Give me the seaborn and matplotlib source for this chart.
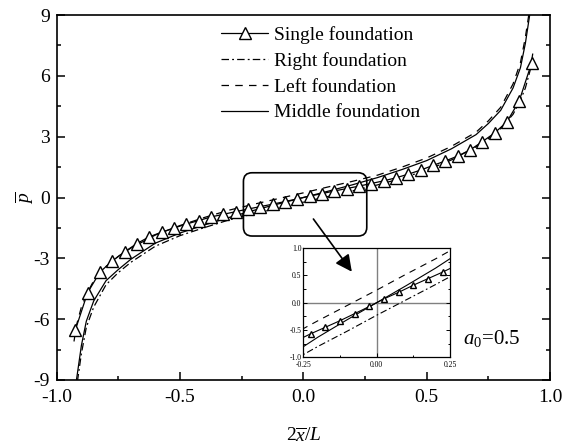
import numpy as np
import pandas as pd
import seaborn as sns
import matplotlib.pyplot as plt
from matplotlib.patches import FancyBboxPatch, FancyArrowPatch
from matplotlib.ticker import MultipleLocator, FormatStrFormatter

# single foundation (triangle markers)
x_single = [-0.925, -0.875, -0.825, -0.775, -0.725, -0.675, -0.625, -0.575, -0.525, -0.475,
            -0.425, -0.375, -0.325, -0.275, -0.225, -0.175, -0.125, -0.075, -0.025,
            0.025, 0.075, 0.125, 0.175, 0.225, 0.275, 0.325, 0.375, 0.425, 0.475,
            0.525, 0.575, 0.625, 0.675, 0.725, 0.775, 0.825, 0.875, 0.925]
p_single = [-6.55, -4.70, -3.68, -3.13, -2.68, -2.27, -1.94, -1.71, -1.51, -1.31,
            -1.14, -0.96, -0.83, -0.70, -0.57, -0.45, -0.33, -0.20, -0.07,
            0.07, 0.19, 0.32, 0.44, 0.56, 0.69, 0.82, 0.97, 1.15, 1.35,
            1.58, 1.80, 2.04, 2.34, 2.75, 3.18, 3.73, 4.76, 6.62]

# group of three foundations
x_curve = [-0.93, -0.92, -0.90, -0.88, -0.85, -0.80, -0.75, -0.70, -0.60, -0.50,
           -0.40, -0.30, -0.20, -0.10, 0.00, 0.10, 0.20, 0.30, 0.40, 0.50,
           0.60, 0.70, 0.75, 0.80, 0.85, 0.88, 0.90, 0.92, 0.93]
p_middle = [-10.5, -9.0, -7.3, -6.1, -5.1, -4.1, -3.55, -3.05, -2.25, -1.75,
            -1.35, -0.98, -0.63, -0.31, 0.00, 0.31, 0.63, 0.98, 1.38, 1.82,
            2.40, 3.10, 3.65, 4.30, 5.40, 6.40, 7.60, 9.20, 10.5]
p_left = [-7.1, -6.3, -5.4, -4.8, -4.1, -3.4, -2.9, -2.5, -1.85, -1.38,
          -0.98, -0.62, -0.33, -0.05, 0.23, 0.52, 0.80, 1.10, 1.50, 1.95,
          2.52, 3.22, 3.78, 4.45, 5.60, 6.65, 7.90, 9.50, 10.6]
p_right = [-10.6, -9.4, -7.7, -6.4, -5.4, -4.3, -3.7, -3.2, -2.40, -1.88,
           -1.48, -1.10, -0.80, -0.52, -0.23, 0.05, 0.33, 0.62, 0.95, 1.35,
           1.85, 2.50, 2.90, 3.40, 4.10, 4.80, 5.40, 6.30, 7.10]

labels = ["Single foundation", "Right foundation", "Left foundation", "Middle foundation"]

sns.set_style("ticks", {"axes.edgecolor": "black", "xtick.color": "black", "ytick.color": "black",
                        "text.color": "black", "axes.labelcolor": "black",
                        "xtick.direction": "in", "ytick.direction": "in"})
plt.rcParams["font.family"] = ["Liberation Serif", "DejaVu Serif"]
plt.rcParams["mathtext.fontset"] = "custom"
plt.rcParams["mathtext.rm"] = "Liberation Serif"
plt.rcParams["mathtext.it"] = "Liberation Serif:italic"
plt.rcParams["axes.unicode_minus"] = False

fig = plt.figure(figsize=(5.65, 4.48), dpi=100)
ax = fig.add_axes([0.1004, 0.1518, 0.8731, 0.8147])


def draw(a, lw, ms):
    sns.lineplot(x=x_curve, y=p_middle, ax=a, color="black", lw=lw, label=labels[3])
    sns.lineplot(x=x_curve, y=p_left, ax=a, color="black", lw=lw, linestyle=(0, (6, 5)),
                 label=labels[2])
    sns.lineplot(x=x_curve, y=p_right, ax=a, color="black", lw=lw,
                 linestyle=(0, (6, 2.5, 1.5, 2.5)), label=labels[1])
    sns.lineplot(x=x_single, y=p_single, ax=a, color="black", lw=lw, marker="^",
                 markersize=ms, markerfacecolor="white", markeredgecolor="black",
                 markeredgewidth=1.0, label=labels[0])


draw(ax, 0.9, 8)

ax.set_xlim(-1, 1)
ax.set_ylim(-9, 9)
ax.xaxis.set_major_locator(MultipleLocator(0.5))
ax.xaxis.set_minor_locator(MultipleLocator(0.25))
ax.yaxis.set_major_locator(MultipleLocator(3))
ax.yaxis.set_minor_locator(MultipleLocator(1.5))
ax.xaxis.set_major_formatter(FormatStrFormatter("%.1f"))
ax.tick_params(which="both", direction="in", right=True, top=False, labelsize=14, width=1.1)
ax.tick_params(axis="x", pad=6.5)
ax.tick_params(axis="y", pad=5)
ax.tick_params(which="major", length=5.5)
ax.tick_params(which="minor", length=3.2)
for s in ax.spines.values():
    s.set_linewidth(1.2)
    s.set_visible(True)

ax.set_xlabel(r"$2\overline{x}/L$", fontsize=14)
ax.xaxis.set_label_coords(0.5, -0.128)
ax.set_ylabel(r"$\overline{p}$", fontsize=14, va="center")
ax.yaxis.set_label_coords(-0.064, 0.5)

h, l = ax.get_legend_handles_labels()
order = [l.index(name) for name in labels]
ax.legend([h[i] for i in order], labels, loc="upper left", bbox_to_anchor=(0.392, 0.942),
          bbox_transform=fig.transFigure, frameon=False, fontsize=14, handlelength=2.4,
          handletextpad=0.3, labelspacing=0.42, borderpad=0, borderaxespad=0)

ax.text(0.823, 0.115, r"$a_0$=0.5", transform=ax.transAxes, fontsize=15, va="center")

# zoom box and arrow
box = FancyBboxPatch((-0.243, -1.90), 0.50, 3.12, boxstyle="round,pad=0,rounding_size=0.035",
                     mutation_aspect=12.2, fill=False, lw=1.2, ec="black", zorder=6)
ax.add_patch(box)

# inset
axin = fig.add_axes([0.537, 0.2025, 0.2597, 0.244])
axin.axhline(0, color="gray", lw=1.0, zorder=0)
axin.axvline(0, color="gray", lw=1.0, zorder=0)
draw(axin, 0.8, 5)
if axin.get_legend() is not None:
    axin.get_legend().remove()
axin.set_xlim(-0.25, 0.25)
axin.set_ylim(-1.0, 1.0)
axin.set_xlabel("")
axin.set_ylabel("")
axin.xaxis.set_major_locator(MultipleLocator(0.25))
axin.xaxis.set_minor_locator(MultipleLocator(0.125))
axin.yaxis.set_major_locator(MultipleLocator(0.5))
axin.yaxis.set_minor_locator(MultipleLocator(0.25))
axin.xaxis.set_major_formatter(FormatStrFormatter("%.2f"))
axin.yaxis.set_major_formatter(FormatStrFormatter("%.1f"))
axin.tick_params(which="both", direction="in", right=True, labelsize=5.5, width=0.7)
axin.tick_params(axis="x", pad=2.5)
axin.tick_params(axis="y", pad=1.5)
axin.tick_params(which="major", length=3)
axin.tick_params(which="minor", length=1.8)
for s in axin.spines.values():
    s.set_linewidth(0.9)

arrow = FancyArrowPatch((0.034, -0.95), (0.203, -3.77), transform=ax.transData,
                        arrowstyle="-|>,head_length=0.5,head_width=0.25", mutation_scale=20,
                        lw=1.2, color="black", zorder=10, clip_on=False)
fig.add_artist(arrow)

fig.savefig("out.png", dpi=100)
